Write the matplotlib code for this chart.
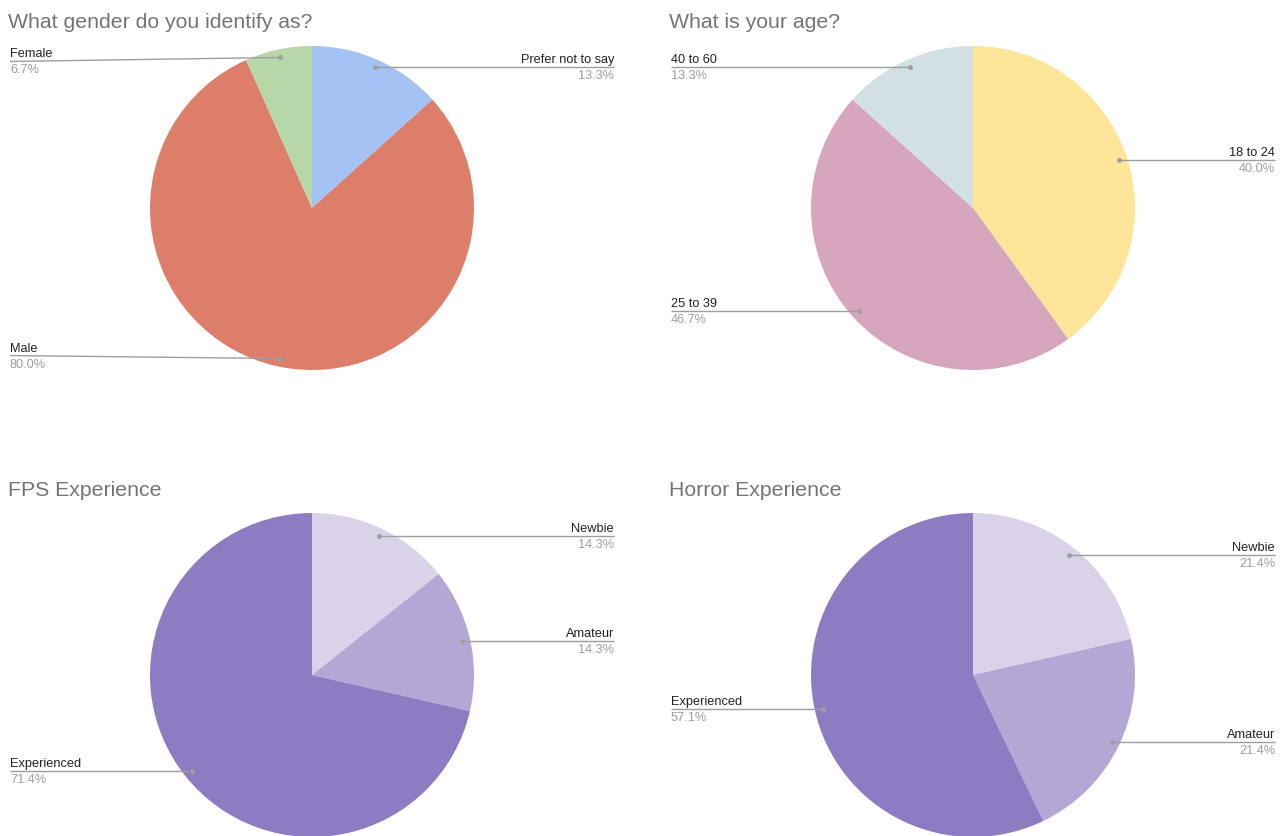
import numpy as np
import matplotlib
matplotlib.use("Agg")
import matplotlib.pyplot as plt

plt.rcParams['font.family'] = ['Liberation Sans', 'DejaVu Sans']

# ---- survey data (respondent counts) ----
gender_labels = ["Prefer not to say", "Male", "Female"]
gender_counts = [2, 12, 1]
gender_colors = ["#a4c2f4", "#dd7e6b", "#b6d7a8"]

age_labels = ["18 to 24", "25 to 39", "40 to 60"]
age_counts = [6, 7, 2]
age_colors = ["#ffe599", "#d5a6bd", "#d0e0e3"]

fps_labels = ["Newbie", "Amateur", "Experienced"]
fps_counts = [2, 2, 10]

horror_labels = ["Newbie", "Amateur", "Experienced"]
horror_counts = [3, 3, 8]

experience_colors = ["#d9d2e9", "#b4a7d6", "#8e7cc3"]

titles = ["What gender do you identify as?", "What is your age?",
          "FPS Experience", "Horror Experience"]

# ---- canvas in pixel units ----
W, H = 1286, 836
fig = plt.figure(figsize=(W / 100, H / 100), dpi=100)
ax = fig.add_axes([0, 0, 1, 1])

LINE_C = "#9e9e9e"
NAME_C = "#222222"
PCT_C = "#9e9e9e"
TITLE_C = "#757575"


def Y(y):
    return H - y


charts = [
    dict(labels=gender_labels, counts=gender_counts, colors=gender_colors,
         center=(312, 208), title_y=28, shift={1: -3, 2: 4}),
    dict(labels=age_labels, counts=age_counts, colors=age_colors,
         center=(973, 208), title_y=28, shift={}),
    dict(labels=fps_labels, counts=fps_counts, colors=experience_colors,
         center=(312, 675), title_y=496, shift={}),
    dict(labels=horror_labels, counts=horror_counts, colors=experience_colors,
         center=(973, 675), title_y=496, shift={}),
]
R = 162

for title, ch in zip(titles, charts):
    cx, cy = ch["center"]
    wedges, _ = ax.pie(ch["counts"], colors=ch["colors"], startangle=90,
                       counterclock=False, center=(cx, Y(cy)), radius=R,
                       wedgeprops=dict(linewidth=0))
    total = float(sum(ch["counts"]))
    ax.text(cx - 304, Y(ch["title_y"]), title, fontsize=15.3, color=TITLE_C,
            ha="left", va="baseline")
    for i, (w, name, n) in enumerate(zip(wedges, ch["labels"], ch["counts"])):
        mid = np.deg2rad((w.theta1 + w.theta2) / 2)
        dx = cx + 0.95 * R * np.cos(mid)
        dy = Y(cy) + 0.95 * R * np.sin(mid)
        ly = dy - ch["shift"].get(i, 0)
        if np.cos(mid) >= 0:
            lx, ha = cx + 302, "right"
        else:
            lx, ha = cx - 302, "left"
        ax.plot([lx, dx], [ly, dy], color=LINE_C, lw=1.0,
                solid_capstyle="butt", zorder=3)
        ax.plot([dx], [dy], "o", ms=3.5, color=LINE_C, mec="none", zorder=4)
        ax.text(lx, ly + 4, name, fontsize=9.2, color=NAME_C, ha=ha,
                va="baseline")
        ax.text(lx, ly - 12, f"{100 * n / total:.1f}%", fontsize=9.2,
                color=PCT_C, ha=ha, va="baseline")

ax.set_xlim(0, W)
ax.set_ylim(0, H)
ax.set_aspect("equal")
ax.axis("off")

fig.savefig("out.png", dpi=100)
